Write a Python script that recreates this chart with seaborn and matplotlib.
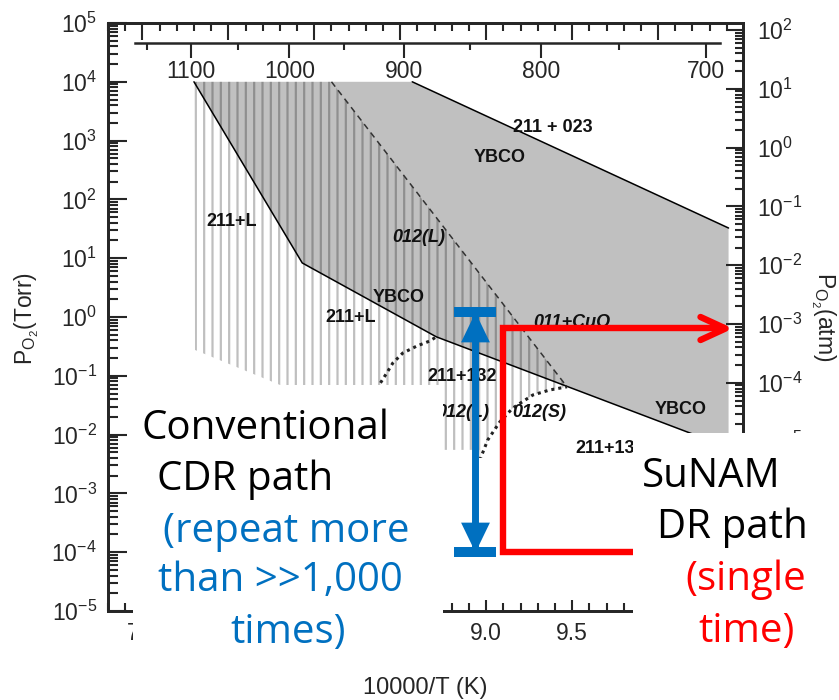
import numpy as np
import matplotlib
matplotlib.use("Agg")
import matplotlib.pyplot as plt
from matplotlib.patches import Rectangle
from matplotlib.path import Path
from matplotlib.markers import MarkerStyle
from matplotlib.ticker import (MultipleLocator, LogLocator, FormatStrFormatter, NullFormatter,
                               FixedLocator, FuncFormatter)
import seaborn as sns

# ---------------- data (x = 10000/T [1/K], P in Torr) ----------------
TORR_PER_ATM = 760.0
liquidus_x = [7.30, 7.93, 8.71, 10.41]
liquidus_p = [1.0e4, 8.3, 0.46, 6.0e-3]
upper_x = [8.57, 10.41]
upper_p = [1.0e4, 32.6]
dashed_x = [8.10, 9.47]
dashed_p = [1.0e4, 0.065]
dot1_x = [8.36, 8.381, 8.422, 8.457, 8.515, 8.597, 8.672, 8.71]
dot1_p = [0.045, 0.0726, 0.112, 0.165, 0.244, 0.321, 0.391, 0.46]
dot2_x = [8.963, 9.009, 9.079, 9.155, 9.271, 9.370, 9.445, 9.47]
dot2_p = [0.0037, 0.0081, 0.0164, 0.0283, 0.0471, 0.0574, 0.0630, 0.065]
hatch_edge_x = [8.96, 7.80, 7.80, 7.306]
hatch_edge_p = [0.0055, 0.0055, 0.070, 0.275]
temp_major = [1100, 1000, 900, 800, 700]
temp_minor = [1150, 1050, 950, 850, 750]
temp_span = [1164, 692]
x_labels_shown = [7.0, 9.0, 9.5]
atm_labels_shown = [1e-5, 1e-4, 1e-3, 1e-2, 1e-1, 1e0, 1e1, 1e2]

labels = [  # text, x, P, italic
    ("211 + 023", 9.39, 10**3.23, False),
    ("YBCO", 9.08, 10**2.72, False),
    ("211+L", 7.52, 10**1.63, False),
    ("012(L)", 8.61, 10**1.36, True),
    ("YBCO", 8.49, 10**0.34, False),
    ("211+L", 8.21, 10**0.0, False),
    ("011+CuO", 9.50, 10**-0.10, True),
    ("211+132", 8.86, 10**-1.02, False),
    ("012(L)", 8.865, 10**-1.62, True),
    ("012(S)", 9.31, 10**-1.63, True),
    ("YBCO", 10.13, 10**-1.58, False),
    ("211+132", 9.72, 10**-2.23, False),
]

cdr_x = 8.935
cdr_p = [1.2, 1.0e-4]
dr_x = 9.10
dr_p = [1.0e-4, 0.65]
dr_x_start = 10.2
dr_x_end = 10.39

# ---------------- style ----------------
sns.set_style("ticks")
plt.rcParams["font.family"] = ["Liberation Sans", "DejaVu Sans"]
plt.rcParams["mathtext.fontset"] = "custom"
plt.rcParams["mathtext.rm"] = "Liberation Sans"
plt.rcParams["mathtext.it"] = "Liberation Sans:italic"
plt.rcParams["mathtext.bf"] = "Liberation Sans:bold"
plt.rcParams["mathtext.default"] = "regular"
plt.rcParams["hatch.linewidth"] = 1.6

W, H = 839, 700
fig = plt.figure(figsize=(W / 100, H / 100), dpi=100)
ax = fig.add_axes([108 / W, 89 / H, 635 / W, 588 / H])
ax.set_yscale("log")
ax.set_xlim(6.8, 10.494)
ax.set_ylim(1e-5, 1e5)

BLUE = "#0070c0"
RED = "#ff0000"

# gray YBCO region
gray_x = [liquidus_x[0]] + upper_x + liquidus_x[::-1][:-1]
gray_p = [liquidus_p[0]] + upper_p + liquidus_p[::-1][:-1]
ax.fill(gray_x, gray_p, color="#c0c0c0", lw=0, zorder=1)

# hatched liquid region
hatch_x = [liquidus_x[0]] + dashed_x + dot2_x[::-1] + hatch_edge_x
hatch_p = [liquidus_p[0]] + dashed_p + dot2_p[::-1] + hatch_edge_p
ax.fill(hatch_x, hatch_p, facecolor="none", edgecolor=(0, 0, 0, 0.25),
        hatch="||", lw=0, zorder=2)

# boundaries
sns.lineplot(x=liquidus_x, y=liquidus_p, ax=ax, color="k", lw=1.1, sort=False,
             estimator=None, legend=False, zorder=3)
sns.lineplot(x=upper_x, y=upper_p, ax=ax, color="k", lw=1.1, sort=False,
             estimator=None, legend=False, zorder=3)
sns.lineplot(x=dashed_x, y=dashed_p, ax=ax, color="#333333", lw=1.1, sort=False,
             estimator=None, legend=False, zorder=3, linestyle=(0, (4, 3)))
for dx, dp in ((dot1_x, dot1_p), (dot2_x, dot2_p)):
    sns.lineplot(x=dx, y=dp, ax=ax, color="#222222", lw=2.2, sort=False,
                 estimator=None, legend=False, zorder=3, linestyle=(0, (1, 1.3)))

for txt, lx, lp, it in labels:
    ax.text(lx, lp, txt, fontsize=13, fontweight="bold",
            style="italic" if it else "normal", ha="center", va="center",
            color="#111111", zorder=5)

# white patch pasted over the lower part of the diagram (below the arrows)
ax.add_patch(Rectangle((443 / W, 1 - 600 / H), 190 / W, 142 / H,
                       transform=fig.transFigure, facecolor="white",
                       edgecolor="none", zorder=5.5, clip_on=False))

# blue CDR arrow
ax.plot([cdr_x, cdr_x], cdr_p, color=BLUE, lw=5, solid_capstyle="butt", zorder=6)
up_head = MarkerStyle(Path([(0, 0), (-0.483, -1), (0.483, -1), (0, 0)],
                           [Path.MOVETO, Path.LINETO, Path.LINETO, Path.CLOSEPOLY]))
down_head = MarkerStyle(Path([(0, 0), (-0.483, 1), (0.483, 1), (0, 0)],
                             [Path.MOVETO, Path.LINETO, Path.LINETO, Path.CLOSEPOLY]))
ax.plot([cdr_x], [cdr_p[0]], marker=up_head, ms=43, color=BLUE, mew=0, zorder=7)
ax.plot([cdr_x], [cdr_p[1]], marker=down_head, ms=43, color=BLUE, mew=0, zorder=7)
ax.plot([cdr_x, cdr_x], cdr_p, ls="none", marker="_", ms=30, mew=7.2, color=BLUE, zorder=7)

# red DR path
ax.plot([dr_x_start, dr_x, dr_x, dr_x_end], [dr_p[0], dr_p[0], dr_p[1], dr_p[1]],
        color=RED, lw=4.6, solid_joinstyle="miter", solid_capstyle="butt", zorder=6)
chevron = MarkerStyle(Path([(-1, 0.46), (0, 0), (-1, -0.46)],
                           [Path.MOVETO, Path.LINETO, Path.LINETO]),
                      fillstyle="none", joinstyle="round", capstyle="round")
ax.plot([dr_x_end], [dr_p[1]], marker=chevron, ms=36, mec=RED, mfc="none",
        mew=4.6, zorder=7)

# ---------------- axes styling ----------------
for s in ax.spines.values():
    s.set_linewidth(2.0)
ax.xaxis.set_major_locator(MultipleLocator(0.5))
ax.xaxis.set_minor_locator(MultipleLocator(0.1))
ax.xaxis.set_major_formatter(FuncFormatter(
    lambda v, pos: f"{v:.1f}" if any(abs(v - s) < 1e-6 for s in x_labels_shown) else ""))
ax.tick_params(axis="x", which="both", top=True, bottom=True, direction="in",
               labeltop=False, width=1.5, labelsize=16.5, pad=8)
ax.tick_params(axis="x", which="major", length=12)
ax.tick_params(axis="x", which="minor", length=6)
ax.yaxis.set_major_locator(LogLocator(base=10, numticks=20))
ax.yaxis.set_minor_locator(LogLocator(base=10, subs=np.arange(2, 10), numticks=20))
ax.yaxis.set_minor_formatter(NullFormatter())
ax.tick_params(axis="y", which="both", left=True, right=False, direction="in",
               width=1.5, labelsize=16.5, pad=8)
ax.tick_params(axis="y", which="major", length=14)
ax.tick_params(axis="y", which="minor", length=7)

ax2 = ax.twinx()
ax2.set_yscale("log")
ax2.set_ylim(1e-5 / TORR_PER_ATM, 1e5 / TORR_PER_ATM)
ax2.yaxis.set_major_locator(LogLocator(base=10, numticks=20))
ax2.yaxis.set_minor_locator(LogLocator(base=10, subs=np.arange(2, 10), numticks=20))
ax2.yaxis.set_major_formatter(FuncFormatter(
    lambda v, pos: (r"$10^{%d}$" % round(np.log10(v)))
    if any(abs(np.log10(v) - np.log10(s)) < 1e-6 for s in atm_labels_shown) else ""))
ax2.yaxis.set_minor_formatter(NullFormatter())
ax2.tick_params(axis="y", which="both", direction="in", width=1.5, labelsize=16.5, pad=10)
ax2.tick_params(axis="y", which="major", length=12)
ax2.tick_params(axis="y", which="minor", length=6)
for s in ax2.spines.values():
    s.set_linewidth(2.0)


def inv_to_celsius(x):
    x = np.asarray(x, dtype=float)
    with np.errstate(divide="ignore", invalid="ignore"):
        return 10000.0 / x - 273.15


def celsius_to_inv(t):
    t = np.asarray(t, dtype=float)
    with np.errstate(divide="ignore", invalid="ignore"):
        return 10000.0 / (t + 273.15)


sec = ax.secondary_xaxis((611 - 43) / 588, functions=(inv_to_celsius, celsius_to_inv))
sec.set_alignment("bottom")
sec.xaxis.set_major_locator(FixedLocator(temp_major))
sec.xaxis.set_minor_locator(FixedLocator(temp_minor))
sec.xaxis.set_major_formatter(FormatStrFormatter("%d"))
sec.tick_params(axis="x", which="both", direction="out", width=1.5, labelsize=16.5, pad=1)
sec.tick_params(axis="x", which="major", length=11)
sec.tick_params(axis="x", which="minor", length=5)
sec.spines["bottom"].set_linewidth(1.8)
sec.spines["bottom"].set_bounds(temp_span[0], temp_span[1])

# axis titles
fig.text(27 / W, 1 - 318 / H, r"P$_{O_2}$(Torr)", rotation=90, ha="center",
         va="center", fontsize=16.5)
fig.text(823 / W, 1 - 317 / H, r"P$_{O_2}$(atm)", rotation=270, ha="center",
         va="center", fontsize=16.5)
fig.text(425 / W, 1 - 688 / H, "10000/T (K)", ha="center", va="center", fontsize=17)

# white text panels pasted over the diagram
for (x0, y0, x1, y1) in [(133, 385, 443, 665), (633, 433, 839, 700)]:
    fig.add_artist(Rectangle((x0 / W, 1 - y1 / H), (x1 - x0) / W, (y1 - y0) / H,
                             transform=fig.transFigure, facecolor="white",
                             edgecolor="none", zorder=10))

big = ["Open Sans", "DejaVu Sans"]
for txt, px, py, col in [
    ("Conventional", 142, 439, "black"),
    ("CDR path", 157, 490, "black"),
    ("(repeat more", 163, 542, BLUE),
    ("than >>1,000", 158, 591, BLUE),
    ("times)", 230, 643, BLUE),
    ("SuNAM", 642, 487, "black"),
    ("DR path", 657, 538, "black"),
    ("(single", 685, 590, RED),
    ("time)", 698, 642, RED),
]:
    fig.text(px / W, 1 - py / H, txt, fontsize=29, family=big, color=col,
             ha="left", va="baseline", zorder=11)

fig.savefig("out.png", dpi=100)
